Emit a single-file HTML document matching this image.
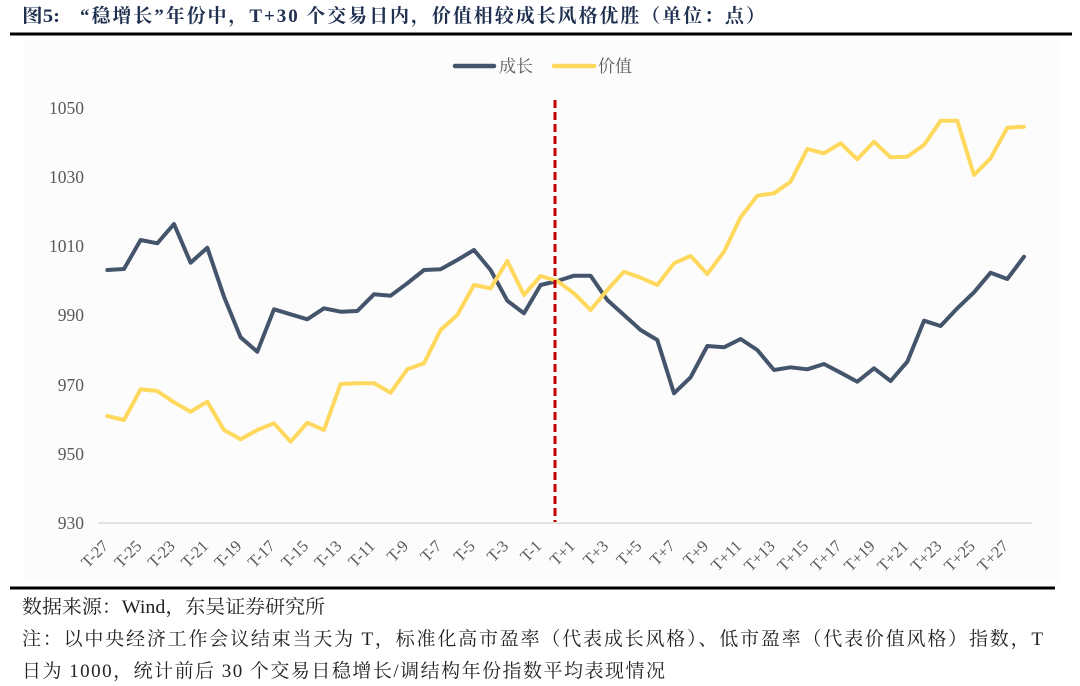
<!DOCTYPE html>
<html><head><meta charset="utf-8"><style>
html,body{margin:0;padding:0;background:#fff;}
svg{display:block;}
</style></head><body>
<svg width="1080" height="686" viewBox="0 0 1080 686" xmlns="http://www.w3.org/2000/svg">
<rect x="0" y="0" width="1080" height="686" fill="#fff"/>
<rect x="23" y="40" width="1037" height="542" fill="#fcfcfc"/>
<text x="22" y="22" textLength="38" lengthAdjust="spacingAndGlyphs" font-family="'Liberation Serif','Noto Serif CJK SC',serif" font-weight="bold" font-size="19" fill="#1f3050">图5:</text>
<text x="80" y="22" textLength="685" lengthAdjust="spacing" font-family="'Liberation Serif','Noto Serif CJK SC',serif" font-weight="bold" font-size="19" fill="#1f3050">“稳增长”年份中，T+30 个交易日内，价值相较成长风格优胜（单位：点）</text>
<line x1="10" y1="34" x2="1072" y2="34" stroke="#000" stroke-width="3"/>
<line x1="10" y1="588" x2="1055" y2="588" stroke="#000" stroke-width="3"/>

<!-- legend -->
<line x1="455" y1="66" x2="494" y2="66" stroke="#44546a" stroke-width="4.5" stroke-linecap="round"/>
<text x="499" y="72" font-family="'Liberation Serif','Noto Serif CJK SC',serif" font-size="17" fill="#595959">成长</text>
<line x1="554" y1="66" x2="594" y2="66" stroke="#ffd85e" stroke-width="4.5" stroke-linecap="round"/>
<text x="598" y="72" font-family="'Liberation Serif','Noto Serif CJK SC',serif" font-size="17" fill="#595959">价值</text>

<!-- y axis labels -->
<g font-family="'Liberation Serif',serif" font-size="17.5" fill="#595959" text-anchor="end">
<text x="84" y="114">1050</text>
<text x="84" y="183">1030</text>
<text x="84" y="252">1010</text>
<text x="84" y="321">990</text>
<text x="84" y="391">970</text>
<text x="84" y="460">950</text>
<text x="84" y="529">930</text>
</g>
<line x1="98" y1="523" x2="1032" y2="523" stroke="#d9d9d9" stroke-width="1.5"/>

<!-- x labels -->
<g font-family="'Liberation Serif',serif" font-size="16.5" fill="#595959" text-anchor="end">
<text transform="translate(109.3,547) rotate(-45)">T-27</text>
<text transform="translate(142.6,547) rotate(-45)">T-25</text>
<text transform="translate(176.0,547) rotate(-45)">T-23</text>
<text transform="translate(209.3,547) rotate(-45)">T-21</text>
<text transform="translate(242.6,547) rotate(-45)">T-19</text>
<text transform="translate(276.0,547) rotate(-45)">T-17</text>
<text transform="translate(309.3,547) rotate(-45)">T-15</text>
<text transform="translate(342.6,547) rotate(-45)">T-13</text>
<text transform="translate(376.0,547) rotate(-45)">T-11</text>
<text transform="translate(409.3,547) rotate(-45)">T-9</text>
<text transform="translate(442.6,547) rotate(-45)">T-7</text>
<text transform="translate(476.0,547) rotate(-45)">T-5</text>
<text transform="translate(509.3,547) rotate(-45)">T-3</text>
<text transform="translate(542.6,547) rotate(-45)">T-1</text>
<text transform="translate(576.0,547) rotate(-45)">T+1</text>
<text transform="translate(609.3,547) rotate(-45)">T+3</text>
<text transform="translate(642.6,547) rotate(-45)">T+5</text>
<text transform="translate(676.0,547) rotate(-45)">T+7</text>
<text transform="translate(709.3,547) rotate(-45)">T+9</text>
<text transform="translate(742.6,547) rotate(-45)">T+11</text>
<text transform="translate(776.0,547) rotate(-45)">T+13</text>
<text transform="translate(809.3,547) rotate(-45)">T+15</text>
<text transform="translate(842.6,547) rotate(-45)">T+17</text>
<text transform="translate(876.0,547) rotate(-45)">T+19</text>
<text transform="translate(909.3,547) rotate(-45)">T+21</text>
<text transform="translate(942.6,547) rotate(-45)">T+23</text>
<text transform="translate(976.0,547) rotate(-45)">T+25</text>
<text transform="translate(1009.3,547) rotate(-45)">T+27</text>
</g>

<!-- grey series -->
<polyline fill="none" stroke="#44546a" stroke-width="4" stroke-linejoin="round" stroke-linecap="round" points="
107.3,270 124.0,269 140.6,240 157.3,243.3 174.0,224 190.6,262.7 207.3,247.7 224.0,296.7 240.6,337.3 257.3,351.7
274.0,309.3 290.6,314.3 307.3,319.3 324.0,308.3 340.6,311.7 357.3,311 374.0,294.3 390.6,295.7 407.3,283.3 424.0,270
440.6,269.3 457.3,260 474.0,250 490.6,270 507.3,300.7 524.0,313.3 540.6,285 557.3,281 574.0,275.7 590.6,275.7
607.3,300 624.0,315 640.6,330 657.3,340 674.0,393.3 690.6,377.3 707.3,346 724.0,347.3 740.6,339 757.3,350
774.0,370 790.6,367.3 807.3,369.3 824.0,364 840.6,372.7 857.3,381.7 874.0,368.3 890.6,381 907.3,361.7 924.0,320.7
940.6,326 957.3,308.3 974.0,292.3 990.6,272.7 1007.3,279 1024.0,256.7"/>

<!-- yellow series -->
<polyline fill="none" stroke="#ffd85e" stroke-width="4" stroke-linejoin="round" stroke-linecap="round" points="
107.3,416 124.0,420 140.6,389.3 157.3,391 174.0,402.3 190.6,411.7 207.3,401.7 224.0,430 240.6,439.3 257.3,430
274.0,423.3 290.6,441.7 307.3,422.7 324.0,430 340.6,384 357.3,383.3 374.0,383.3 390.6,392.7 407.3,369.3 424.0,363.3
440.6,330 457.3,315 474.0,285 490.6,288.3 507.3,261 524.0,295 540.6,276 557.3,281 574.0,293.3 590.6,310
607.3,290 624.0,271.7 640.6,277.7 657.3,285 674.0,263.3 690.6,256 707.3,274 724.0,251.7 740.6,217.3 757.3,195.7
774.0,193.3 790.6,181.7 807.3,149 824.0,153.3 840.6,143.3 857.3,159.3 874.0,141.7 890.6,157.3 907.3,156.7 924.0,145
940.6,120.7 957.3,120.7 974.0,175 990.6,158.3 1007.3,127.7 1024.0,126.7"/>

<!-- red dashed line -->
<line x1="555" y1="100" x2="555" y2="522" stroke="#c00000" stroke-width="3" stroke-dasharray="8,4"/>

<!-- footer -->
<g font-family="'Liberation Serif','Noto Serif CJK SC',serif" font-size="19" fill="#222">
<text x="22" y="613" textLength="303" lengthAdjust="spacingAndGlyphs">数据来源：Wind，东吴证券研究所</text>
<text x="22" y="645" textLength="1021" lengthAdjust="spacing">注：以中央经济工作会议结束当天为 T，标准化高市盈率（代表成长风格）、低市盈率（代表价值风格）指数，T</text>
<text x="22" y="677" textLength="643" lengthAdjust="spacing">日为 1000，统计前后 30 个交易日稳增长/调结构年份指数平均表现情况</text>
</g>
</svg>
</body></html>
